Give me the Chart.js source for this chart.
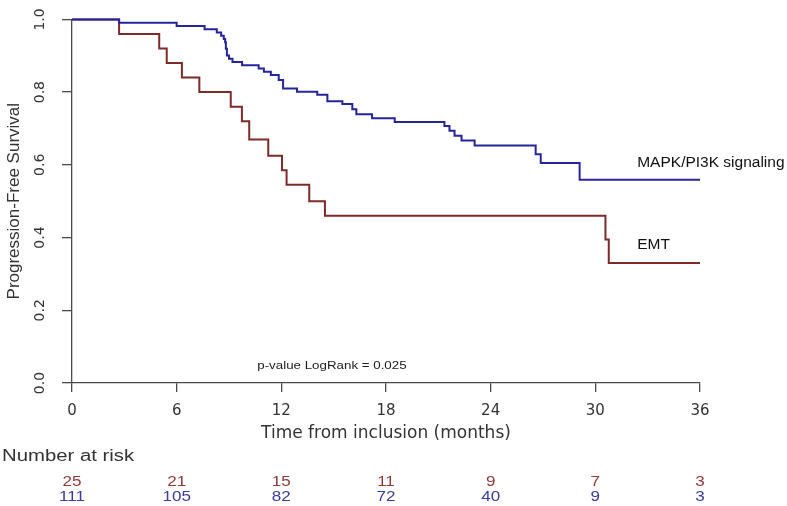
<!DOCTYPE html>
<html>
<head>
<meta charset="utf-8">
<script src="https://cdn.jsdelivr.net/npm/chart.js@4.4.1/dist/chart.umd.min.js"></script>
<style>
  html, body { margin: 0; padding: 0; background: #fff; }
  #km { display: block; }
</style>
</head>
<body>
<canvas id="km" width="787" height="506"></canvas>
<script>
// Kaplan-Meier steps (months, survival after the drop)
const mapkTimes = [0, 2.7, 6.0, 7.6, 8.3, 8.55, 8.7, 8.78, 8.82, 8.88, 9.0, 9.2, 9.75, 10.7, 11.0, 11.4, 11.85, 12.1, 12.9, 14.06, 14.64, 15.5, 16.07, 16.3, 17.2, 18.5, 21.35, 21.64, 21.93, 22.33, 23.08, 26.58, 26.87, 29.1, 36];
const mapkSurv  = [1.0, 0.991, 0.982, 0.973, 0.964, 0.955, 0.946, 0.937, 0.919, 0.901, 0.892, 0.883, 0.874, 0.865, 0.856, 0.847, 0.833, 0.81, 0.801, 0.793, 0.775, 0.767, 0.753, 0.739, 0.728, 0.718, 0.707, 0.694, 0.68, 0.667, 0.653, 0.629, 0.605, 0.559, 0.559];

const emtTimes = [0, 2.7, 5.0, 5.43, 6.3, 7.3, 9.1, 9.74, 10.16, 11.25, 12.04, 12.3, 13.6, 14.5, 30.58, 30.77, 36];
const emtSurv  = [1.0, 0.96, 0.92, 0.88, 0.84, 0.80, 0.76, 0.72, 0.67, 0.625, 0.585, 0.545, 0.50, 0.46, 0.395, 0.33, 0.33];

// number at risk table
const riskTimes = [0, 6, 12, 18, 24, 30, 36];
const riskEMT   = [25, 21, 15, 11, 9, 7, 3];
const riskMAPK  = [111, 105, 82, 72, 40, 9, 3];

const BLUE = '#25259a';
const RED = '#7d2a2a';
const AXIS = '#4a4a4a';
const STRETCH = 1.27; // the R part of the figure is stretched sideways

const toPoints = (xs, ys) => xs.map((x, i) => ({ x, y: ys[i] }));

// draws text stretched horizontally around its anchor
function wideText(ctx, text, x, y, align, sx) {
  ctx.save();
  ctx.translate(x, y);
  ctx.scale(sx, 1);
  ctx.textAlign = align;
  ctx.fillText(text, 0, 0);
  ctx.restore();
}

const annotations = {
  id: 'kmText',
  afterDraw(chart) {
    const { ctx, scales } = chart;
    const xs = scales.x;
    const ys = scales.y;
    ctx.save();
    ctx.textBaseline = 'middle';

    // curve labels
    ctx.fillStyle = '#111';
    ctx.font = '15.5px "Liberation Sans", Arial, sans-serif';
    ctx.textAlign = 'left';
    ctx.fillText('MAPK/PI3K signaling', xs.getPixelForValue(32.4), ys.getPixelForValue(0.607));
    ctx.fillText('EMT', xs.getPixelForValue(32.4), ys.getPixelForValue(0.38));

    // log-rank p-value
    ctx.fillStyle = '#1a1a1a';
    ctx.font = '10.5px "Liberation Sans", Arial, sans-serif';
    wideText(ctx, 'p-value LogRank = 0.025', xs.getPixelForValue(14.9), ys.getPixelForValue(0.047), 'center', STRETCH);

    // number at risk
    ctx.fillStyle = '#333';
    ctx.font = '16px "Liberation Sans", Arial, sans-serif';
    wideText(ctx, 'Number at risk', 2, 457, 'left', STRETCH);

    ctx.font = '14px "Liberation Sans", Arial, sans-serif';
    riskTimes.forEach((t, i) => {
      const px = xs.getPixelForValue(t);
      ctx.fillStyle = '#8e3b3b';
      wideText(ctx, String(riskEMT[i]), px, 482, 'center', 1.22);
      ctx.fillStyle = '#3b3b99';
      wideText(ctx, String(riskMAPK[i]), px, 497, 'center', 1.22);
    });
    ctx.restore();
  },
};

new Chart(document.getElementById('km'), {
  type: 'line',
  data: {
    datasets: [
      {
        label: 'MAPK/PI3K signaling',
        data: toPoints(mapkTimes, mapkSurv),
        borderColor: BLUE,
        borderWidth: 2,
        stepped: 'before',
        pointRadius: 0,
        fill: false,
        clip: false,
      },
      {
        label: 'EMT',
        data: toPoints(emtTimes, emtSurv),
        borderColor: RED,
        borderWidth: 2,
        stepped: 'before',
        pointRadius: 0,
        fill: false,
        clip: false,
      },
    ],
  },
  options: {
    responsive: false,
    animation: false,
    layout: { padding: { top: 11, right: 87, bottom: 58, left: 0 } },
    plugins: {
      legend: { display: false },
      tooltip: { enabled: false },
    },
    scales: {
      x: {
        type: 'linear',
        min: 0,
        max: 36,
        afterFit: (s) => { s.height = 65; },
        ticks: {
          stepSize: 6,
          color: '#333',
          padding: 10,
          maxRotation: 0,
          font: { family: '"DejaVu Sans", sans-serif', size: 15 },
        },
        grid: { drawOnChartArea: false, drawTicks: true, tickLength: 9, color: AXIS, lineWidth: 1.3 },
        border: { display: true, color: AXIS, width: 1.3 },
        title: {
          display: true,
          text: 'Time from inclusion (months)',
          color: '#333',
          font: { family: '"DejaVu Sans", sans-serif', size: 17 },
          padding: { top: 0, bottom: 4 },
        },
      },
      y: {
        min: 0,
        max: 1,
        afterFit: (s) => { s.width = 72; },
        ticks: {
          stepSize: 0.2,
          color: '#333',
          padding: 11,
          minRotation: 90,
          maxRotation: 90,
          crossAlign: 'center',
          callback: (v) => Number(v).toFixed(1),
          font: { family: '"DejaVu Sans", sans-serif', size: 14 },
        },
        grid: { drawOnChartArea: false, drawTicks: true, tickLength: 10, color: AXIS, lineWidth: 1.3 },
        border: { display: true, color: AXIS, width: 1.3 },
        title: {
          display: true,
          text: 'Progression-Free Survival',
          color: '#333',
          font: { family: '"Liberation Sans", Arial, sans-serif', size: 17 },
          padding: { top: 4, bottom: 0 },
        },
      },
    },
  },
  plugins: [annotations],
});
</script>
</body>
</html>
